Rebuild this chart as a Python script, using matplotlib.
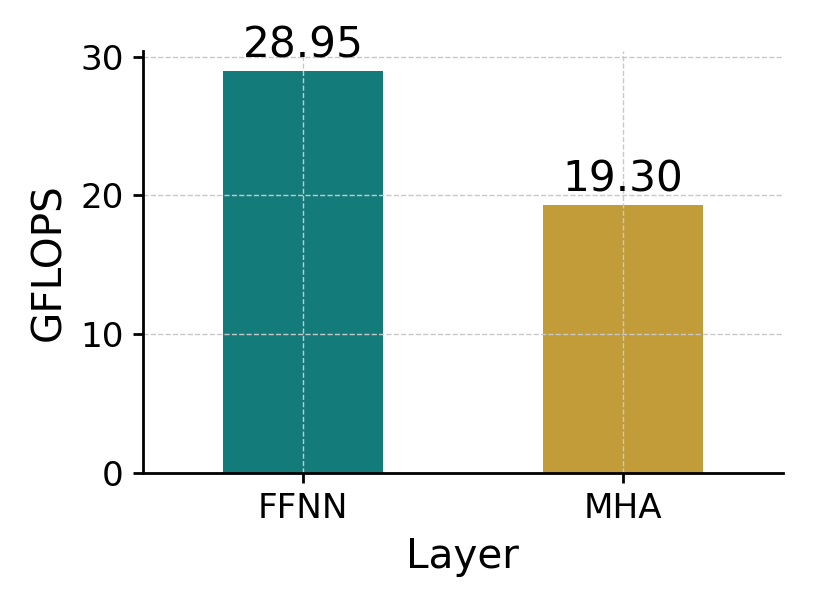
import matplotlib
matplotlib.use("Agg")
import matplotlib.pyplot as plt

# data
layers = ["FFNN", "MHA"]
gflops = [28.95, 19.30]
colors = ["#137b7a", "#c39c3a"]


def main():
    fig = plt.figure(figsize=(4.07, 3.05), dpi=200)
    ax = fig.add_axes([0.1757, 0.2246, 0.786, 0.6918])

    xs = range(len(layers))
    bars = ax.bar(xs, gflops, width=0.5, color=colors)
    for b, v in zip(bars, gflops):
        ax.annotate(f"{v:.2f}", (b.get_x() + b.get_width() / 2, v),
                    xytext=(0, 1.5), textcoords="offset points",
                    ha="center", va="bottom", fontsize=15.2)

    ax.set_xlim(-0.5, 1.5)
    ax.set_ylim(0, max(gflops) * 1.05)
    ax.set_xticks(list(xs))
    ax.set_xticklabels(layers, rotation=0)
    ax.set_yticks([0, 10, 20, 30])
    ax.tick_params(labelsize=12.3, width=1.0)
    ax.set_xlabel("Layer", fontsize=14.6)
    ax.set_ylabel("GFLOPS", fontsize=14.6)
    ax.grid(True, linestyle="--", color="#c8c8c8", linewidth=0.5)
    for s in ("top", "right"):
        ax.spines[s].set_visible(False)
    for s in ("left", "bottom"):
        ax.spines[s].set_linewidth(1.0)

    fig.savefig("out.png", dpi=200)


if __name__ == "__main__":
    main()
